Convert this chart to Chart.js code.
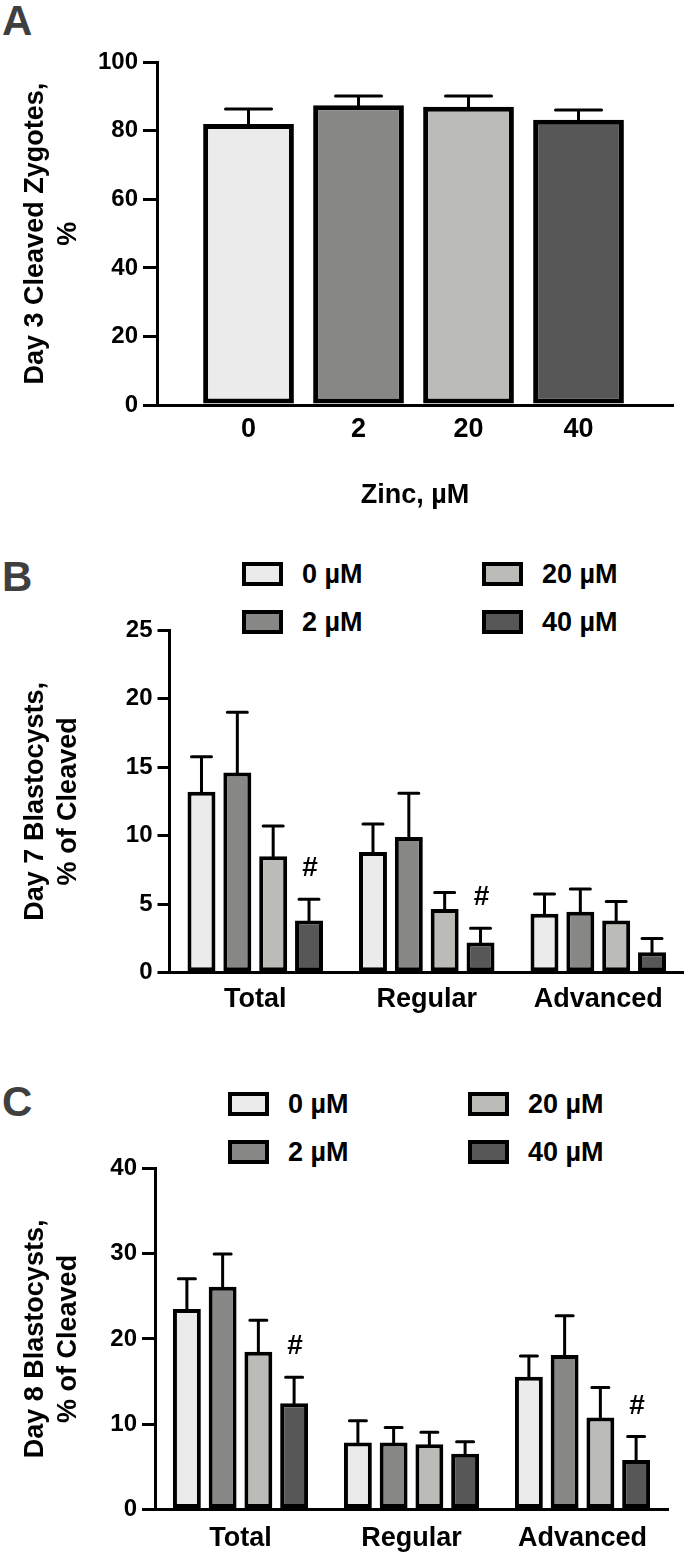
<!DOCTYPE html>
<html>
<head>
<meta charset="utf-8">
<title>Zinc and bovine embryo development</title>
<script src="https://cdn.jsdelivr.net/npm/chart.js@4.4.1/dist/chart.umd.min.js"></script>
<style>
  body { margin: 0; background: #fff; font-family: "Liberation Sans", Arial, sans-serif; }
  #page { position: relative; width: 684px; height: 1557px; overflow: hidden; }
  canvas { position: absolute; left: 0; }
  .panel-letter { position: absolute; left: 2px; font-size: 42px; line-height: 42px; font-weight: bold; color: #3f3f3f; }
  .legend { position: absolute; display: grid; grid-auto-flow: column; grid-template-rows: 24px 24px; grid-template-columns: 240px auto; row-gap: 23.6px; }
  .legend-item { display: flex; align-items: center; height: 24px; line-height: 24px; font-size: 27px; font-weight: bold; color: #000; white-space: nowrap; }
  .legend-box { width: 41px; height: 24px; box-sizing: border-box; border: 4px solid #000; margin-right: 19px; }
</style>
</head>
<body>
<div id="page">
  <div class="panel-letter" style="top:0px">A</div>
  <canvas id="chartA" width="684" height="520" style="top:0"></canvas>

  <div class="panel-letter" style="top:556px">B</div>
  <div class="legend" id="legendB" style="left:242px; top:562px"></div>
  <canvas id="chartB" width="684" height="480" style="top:540px"></canvas>

  <div class="panel-letter" style="top:1081px">C</div>
  <div class="legend" id="legendC" style="left:228px; top:1092px"></div>
  <canvas id="chartC" width="684" height="487" style="top:1070px"></canvas>
</div>

<script>
// DATA
const doseLabels = ["0", "2", "20", "40"];
const seriesNames = ["0 µM", "2 µM", "20 µM", "40 µM"];
const seriesColors = ["#ebebeb", "#878785", "#bbbbb7", "#575757"];
const groupLabels = ["Total", "Regular", "Advanced"];

// A: day 3 cleavage (mean, SEM)
const day3Mean = [82.0, 87.5, 87.0, 83.2];
const day3Sem = [4.4, 2.7, 3.2, 2.9];

// B: day 7 blastocysts, per zinc dose (Total, Regular, Advanced)
const day7Zn0 = [13.2, 8.8, 4.3];
const day7Zn2 = [14.6, 9.9, 4.45];
const day7Zn20 = [8.5, 4.65, 3.8];
const day7Zn40 = [3.8, 2.2, 1.5];
const day7Sem0 = [2.55, 2.05, 1.45];
const day7Sem2 = [4.4, 3.2, 1.65];
const day7Sem20 = [2.2, 1.2, 1.4];
const day7Sem40 = [1.55, 1.05, 1.0];
const day7Marks40 = ["#", "#", ""];

// C: day 8 blastocysts
const day8Zn0 = [23.5, 7.85, 15.55];
const day8Zn2 = [26.1, 7.85, 18.1];
const day8Zn20 = [18.5, 7.65, 10.8];
const day8Zn40 = [12.45, 6.55, 5.8];
const day8Sem0 = [3.55, 2.55, 2.45];
const day8Sem2 = [3.85, 1.75, 4.6];
const day8Sem20 = [3.7, 1.4, 3.5];
const day8Sem40 = [3.05, 1.4, 2.75];
const day8Marks40 = ["#", "", "#"];

Chart.defaults.font.family = '"Liberation Sans", Arial, Helvetica, sans-serif';
Chart.defaults.font.weight = "bold";
Chart.defaults.color = "#000";

// ERROR BARS (+SEM only) and "#" marks
const errorBarPlugin = {
  id: "errorBars",
  afterDatasetsDraw(chart, args, opts) {
    const ctx = chart.ctx;
    const yScale = chart.scales.y;
    ctx.save();
    ctx.strokeStyle = "#000";
    ctx.fillStyle = "#000";
    ctx.lineWidth = opts.lineWidth;
    ctx.lineCap = "round";
    ctx.font = 'bold 28px "Liberation Sans", Arial, sans-serif';
    ctx.textAlign = "center";
    ctx.textBaseline = "alphabetic";
    chart.data.datasets.forEach((ds, i) => {
      const meta = chart.getDatasetMeta(i);
      meta.data.forEach((bar, j) => {
        const mean = meta.controller.getParsed(j).y;
        const yTop = yScale.getPixelForValue(mean + ds.errors[j]);
        ctx.beginPath();
        ctx.moveTo(bar.x, bar.y);
        ctx.lineTo(bar.x, yTop);
        ctx.moveTo(bar.x - opts.capWidth / 2, yTop);
        ctx.lineTo(bar.x + opts.capWidth / 2, yTop);
        ctx.stroke();
        if (ds.marks && ds.marks[j]) {
          ctx.fillText(ds.marks[j], bar.x + 1, yTop - opts.markGap);
        }
      });
    });
    ctx.restore();
  },
};

function yAxis(max, step, width, tickLen, title) {
  return {
    min: 0,
    max: max,
    afterFit: (s) => { s.width = width; },
    ticks: { stepSize: step, padding: 5, font: { size: 24 } },
    grid: { drawOnChartArea: false, drawTicks: true, tickLength: tickLen, color: "#000", lineWidth: 3 },
    border: { display: true, color: "#000", width: 3 },
    title: { display: true, text: title, font: { size: 27, lineHeight: 1.222 }, padding: 0 },
  };
}

// PANEL A
new Chart(document.getElementById("chartA"), {
  type: "bar",
  data: {
    datasets: [
      {
        data: day3Mean.map((v, i) => ({ x: i, y: v })),
        errors: day3Sem,
        backgroundColor: seriesColors,
        borderColor: "#000",
        borderWidth: 5,
        borderSkipped: false,
        categoryPercentage: 1,
        barPercentage: 0.825,
      },
    ],
  },
  options: {
    responsive: false,
    animation: false,
    layout: { padding: { left: 19.5, right: 11, top: 62.3, bottom: 7.8 } },
    plugins: {
      legend: { display: false },
      tooltip: { enabled: false },
      errorBars: { capWidth: 46, lineWidth: 3, markGap: 23 },
    },
    scales: {
      x: {
        type: "linear",
        min: -0.832,
        max: 3.859,
        offset: false,
        afterFit: (s) => { s.height = 107.2; },
        grid: { display: false, drawTicks: false },
        border: { display: true, color: "#000", width: 3 },
        ticks: {
          stepSize: 1,
          includeBounds: false,
          autoSkip: false,
          padding: 8.3,
          font: { size: 27 },
          callback: (v) => doseLabels[v] ?? "",
        },
        title: { display: true, text: "Zinc, µM", font: { size: 27 }, padding: 0 },
      },
      y: yAxis(100, 20, 137.5, 14, ["Day 3 Cleaved Zygotes,", "%"]),
    },
  },
  plugins: [errorBarPlugin],
});

// PANELS B, C
function groupedChart(id, means, sems, marks, pad, yWidth, xHeight, xPad, yMax, yStep, tickLen, yTitle, cap) {
  const datasets = seriesNames.map((name, i) => ({
    label: name,
    data: means[i],
    errors: sems[i],
    marks: marks[i],
    backgroundColor: seriesColors[i],
    borderColor: "#000",
    borderWidth: 4,
    borderSkipped: false,
    categoryPercentage: 0.836,
    barPercentage: 0.78,
  }));
  return new Chart(document.getElementById(id), {
    type: "bar",
    data: { labels: groupLabels, datasets: datasets },
    options: {
      responsive: false,
      animation: false,
      layout: { padding: pad },
      plugins: {
        legend: { display: false },
        tooltip: { enabled: false },
        errorBars: { capWidth: cap, lineWidth: 3, markGap: 23 },
      },
      scales: {
        x: {
          afterFit: (s) => { s.height = xHeight; },
          grid: { display: false, drawTicks: false },
          border: { display: true, color: "#000", width: 3 },
          ticks: { padding: xPad, font: { size: 27 } },
        },
        y: yAxis(yMax, yStep, yWidth, tickLen, yTitle),
      },
    },
    plugins: [errorBarPlugin],
  });
}

// HTML LEGEND from the chart's own legend items
function buildLegend(chart, id) {
  const holder = document.getElementById(id);
  chart.options.plugins.legend.labels.generateLabels(chart).forEach((item) => {
    const row = document.createElement("div");
    row.className = "legend-item";
    const swatch = document.createElement("span");
    swatch.className = "legend-box";
    swatch.style.background = item.fillStyle;
    row.appendChild(swatch);
    row.appendChild(document.createTextNode(item.text));
    holder.appendChild(row);
  });
}

const chartB = groupedChart(
  "chartB",
  [day7Zn0, day7Zn2, day7Zn20, day7Zn40],
  [day7Sem0, day7Sem2, day7Sem20, day7Sem40],
  [null, null, null, day7Marks40],
  { left: 19.5, right: 0, top: 90, bottom: 0 },
  150, 47.3, 10.8, 25, 5, 12,
  ["Day 7 Blastocysts,", "% of Cleaved"],
  20
);
buildLegend(chartB, "legendB");

const chartC = groupedChart(
  "chartC",
  [day8Zn0, day8Zn2, day8Zn20, day8Zn40],
  [day8Sem0, day8Sem2, day8Sem20, day8Sem40],
  [null, null, null, day8Marks40],
  { left: 19.5, right: 16, top: 98.3, bottom: 0 },
  135.5, 47.5, 12.6, 40, 10, 13,
  ["Day 8 Blastocysts,", "% of Cleaved"],
  17
);
buildLegend(chartC, "legendC");
</script>
</body>
</html>
